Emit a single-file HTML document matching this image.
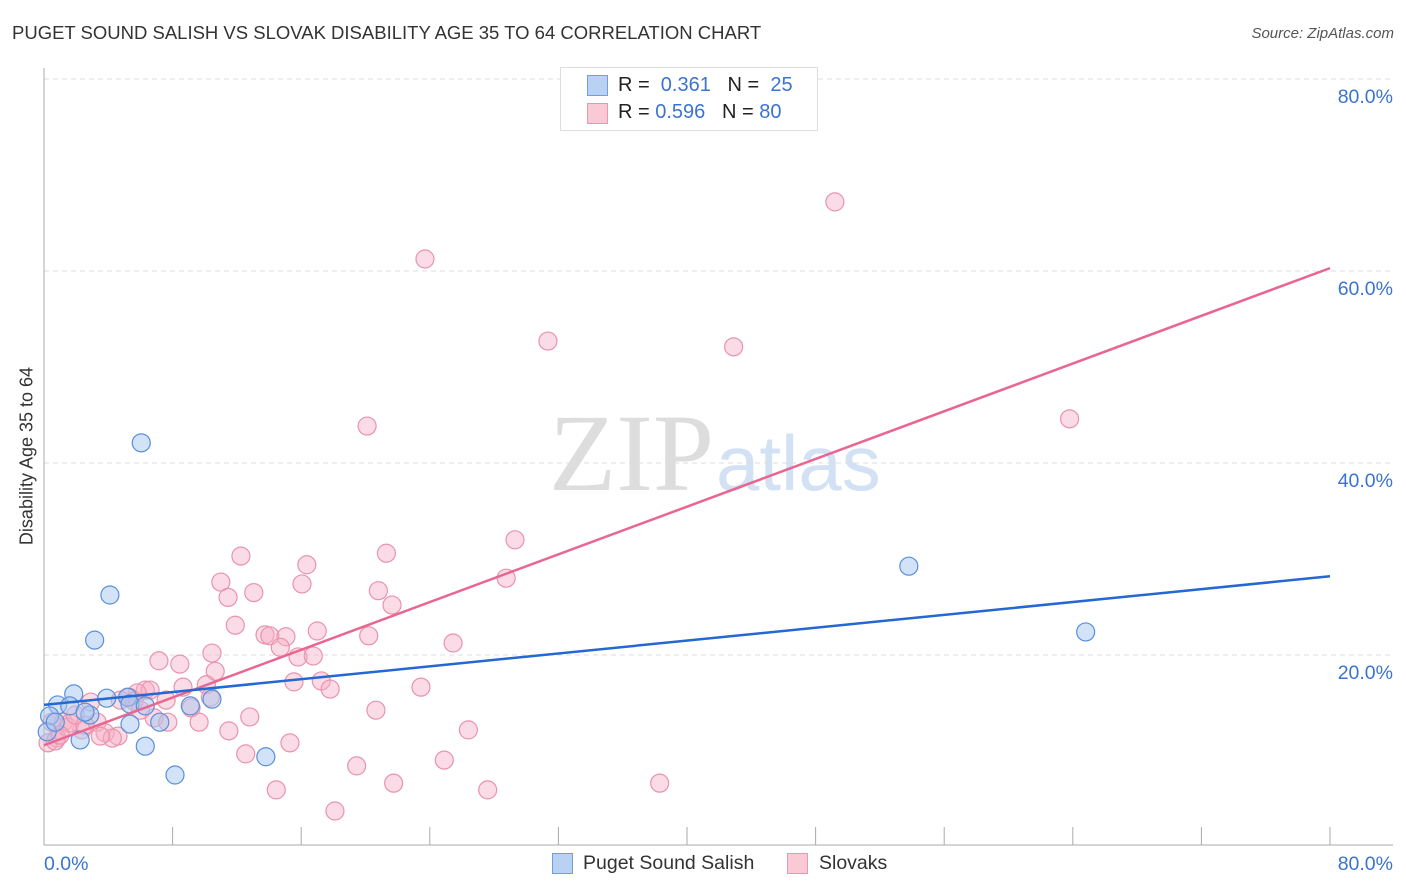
<!DOCTYPE html>
<html><head><meta charset="utf-8"><style>
body{margin:0;background:#fff;font-family:"Liberation Sans",sans-serif;}
#wrap{position:relative;width:1406px;height:892px;overflow:hidden;}
.t{position:absolute;white-space:nowrap;}
</style></head><body>
<div id="wrap">
<div class="t" style="left:12px;top:22px;font-size:18.5px;color:#333;">PUGET SOUND SALISH VS SLOVAK DISABILITY AGE 35 TO 64 CORRELATION CHART</div>
<div class="t" style="right:12px;top:25px;font-size:15px;color:#555;font-style:italic;">Source: ZipAtlas.com</div>
<div class="t" style="left:27px;top:456px;font-size:18px;color:#333;transform:translate(-50%,-50%) rotate(-90deg);">Disability Age 35 to 64</div>
<svg id="plot" width="1406" height="892" style="position:absolute;left:0;top:0;">
<text x="714" y="490" text-anchor="end" font-family="Liberation Serif" font-size="110" fill="#ddd">ZIP</text>
<text x="716" y="490" font-family="Liberation Sans" font-size="78" fill="#d3e1f4">atlas</text>
</svg>
<div style="position:absolute;left:560px;top:67px;width:256px;height:62px;border:1px solid #ddd;background:#fff;"></div>
<div style="position:absolute;left:587px;top:75px;width:19px;height:19px;background:#b9d2f3;border:1px solid #6f9fe0;"></div>
<div style="position:absolute;left:587px;top:103px;width:19px;height:19px;background:#f9c9d6;border:1px solid #ec97b0;"></div>
<div class="t" style="left:618px;top:74px;font-size:20px;color:#222;">R = &nbsp;<span style="color:#3a74d0">0.361</span> &nbsp;&nbsp;N = &nbsp;<span style="color:#3a74d0">25</span></div>
<div class="t" style="left:618px;top:101px;font-size:20px;color:#222;">R = <span style="color:#3a74d0">0.596</span> &nbsp;&nbsp;N = <span style="color:#3a74d0">80</span></div>
<div style="position:absolute;left:552px;top:853px;width:19px;height:19px;background:#b9d2f3;border:1px solid #6f9fe0;"></div>
<div class="t" style="left:583px;top:852px;font-size:19.5px;color:#333;">Puget Sound Salish</div>
<div style="position:absolute;left:787px;top:853px;width:19px;height:19px;background:#f9c9d6;border:1px solid #ec97b0;"></div>
<div class="t" style="left:819px;top:852px;font-size:19.5px;color:#333;">Slovaks</div>
</div>
<script>
const yTicks=[20,40,60,80];
const yTickLabels=["20.0%","40.0%","60.0%","80.0%"];
const xTickVals=[0,8,16,24,32,40,48,56,64,72,80];
const blueX=[6.05,4.1,3.15,1.85,3.9,5.2,0.85,1.6,2.85,0.35,5.35,6.3,9.1,10.45,7.2,5.35,2.25,0.2,6.3,8.15,13.8,53.8,64.8,0.7,2.55];
const blueY=[42.1,26.25,21.55,15.95,15.5,15.6,14.8,14.7,13.75,13.65,14.9,14.7,14.7,15.4,13.0,12.8,11.15,12.0,10.5,7.5,9.4,29.25,22.4,13.0,14.05];
const pinkX=[49.2,23.7,31.35,42.9,20.1,63.8,29.3,21.3,12.25,16.35,28.75,11.0,16.05,20.8,13.05,11.45,21.65,11.9,17.0,13.75,14.05,15.05,20.2,25.45,14.7,10.45,15.8,16.75,7.15,8.45,10.65,15.55,17.25,17.8,23.45,8.65,6.3,6.6,5.8,10.1,10.35,5.3,2.9,7.6,9.15,5.6,20.65,12.8,6.85,7.7,9.65,3.3,1.2,0.5,2.35,3.8,1.5,11.5,26.4,4.6,4.25,3.5,0.8,0.25,0.7,15.3,12.55,24.9,19.45,21.75,38.3,14.45,27.6,18.1,1.6,2.55,1.0,6.0,4.75,1.95];
const pinkY=[67.2,61.25,52.7,52.1,43.85,44.6,32.0,30.6,30.3,29.4,28.0,27.6,27.4,26.7,26.5,26.0,25.2,23.1,22.5,22.1,22.0,21.9,22.0,21.25,20.8,20.2,19.8,19.9,19.4,19.05,18.3,17.2,17.3,16.45,16.65,16.65,16.35,16.35,16.05,16.9,15.6,15.6,15.1,15.3,14.5,15.2,14.25,13.55,13.45,13.0,13.0,13.0,13.0,13.0,12.2,11.9,12.5,12.1,12.2,11.55,11.35,11.55,11.35,10.85,11.05,10.85,9.7,9.05,8.45,6.65,6.65,5.95,5.95,3.75,12.9,12.7,11.65,14.25,15.3,13.75];
const blueTrend=[14.8,28.2];
const pinkTrend=[10.6,60.3];
const NS="http://www.w3.org/2000/svg";
const svg=document.getElementById('plot');
const X=v=>44+v*1286/80;
const Y=v=>847-v*9.6;
function mk(t,a){const e=document.createElementNS(NS,t);for(const k in a)e.setAttribute(k,a[k]);svg.appendChild(e);return e;}
yTicks.forEach((v,i)=>{
 const g=mk('line',{x1:44,x2:1393,y1:Y(v),y2:Y(v),stroke:'#ddd','stroke-dasharray':'5,4'});
 
 
 const t=mk('text',{x:1393,y:Y(v)+24,'text-anchor':'end','font-size':19.5,fill:'#3a74d0','font-family':'Liberation Sans'});
 t.textContent=yTickLabels[i];
 
 
});
const ax=mk('line',{x1:44,x2:44,y1:68,y2:845,stroke:'#aaa'});


const bx=mk('line',{x1:44,x2:1393,y1:845,y2:845,stroke:'#aaa'});


xTickVals.forEach(v=>{
 if(v===0)return;
 const t=mk('line',{x1:X(v),x2:X(v),y1:827,y2:845,stroke:'#aaa'});
 
 
});
[[0,'0.0%','start',44],[80,'80.0%','end',1393]].forEach(d=>{
 const t=mk('text',{x:d[3],y:870,'text-anchor':d[2],'font-size':19.5,fill:'#3a74d0','font-family':'Liberation Sans'});
 t.textContent=d[1];
 
 
});
pinkX.forEach((x,i)=>{
 const c=mk('circle',{cx:X(x),cy:Y(pinkY[i]),r:9,fill:'rgba(246,176,197,0.45)',stroke:'#e993ad','stroke-width':1.2});
 
 
});
blueX.forEach((x,i)=>{
 const c=mk('circle',{cx:X(x),cy:Y(blueY[i]),r:9,fill:'rgba(165,198,240,0.5)',stroke:'#5a8fda','stroke-width':1.2});
 
 
});
const pl=mk('line',{x1:X(0),y1:Y(pinkTrend[0]),x2:X(80),y2:Y(pinkTrend[1]),stroke:'#e8668f','stroke-width':2.5});


const bl=mk('line',{x1:X(0),y1:Y(blueTrend[0]),x2:X(80),y2:Y(blueTrend[1]),stroke:'#2468d2','stroke-width':2.5});


</script>
</body></html>
